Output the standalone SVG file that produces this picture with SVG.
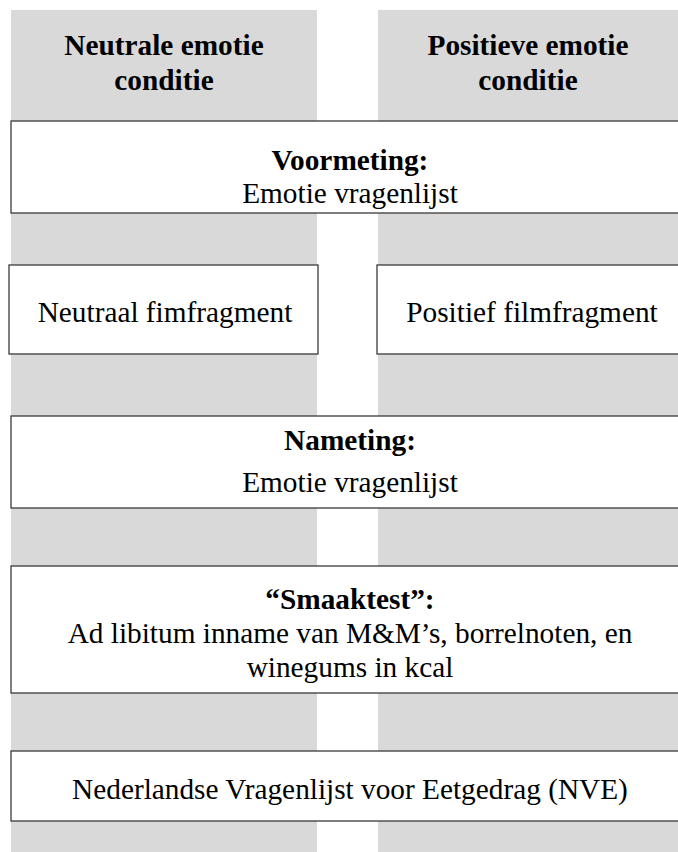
<svg xmlns="http://www.w3.org/2000/svg" width="678" height="852" viewBox="0 0 678 852">
<style>
.col{fill:#d9d9d9;}
.box{fill:#ffffff;stroke:#3a3a3a;stroke-width:1.3;}
.t{font-family:'Liberation Serif','Times New Roman',serif;font-size:29.3px;fill:#000000;text-anchor:middle;}
.b{font-weight:bold;}
</style>
<g id="columns">
<rect class="col" x="11" y="10" width="306" height="842"/>
<rect class="col" x="378" y="10" width="300" height="842"/>
</g>
<g font-family="Liberation Serif, Times New Roman, serif">
<g id="header-neutral">
<text class="t b" x="164" y="55">Neutrale emotie</text>
<text class="t b" x="164" y="90">conditie</text>
</g>
<g id="header-positive">
<text class="t b" x="528" y="55">Positieve emotie</text>
<text class="t b" x="528" y="90">conditie</text>
</g>
<g id="voormeting">
<rect class="box" x="11" y="121" width="678" height="92"/>
<text class="t b" x="350" y="170">Voormeting:</text>
<text class="t" x="350" y="203">Emotie vragenlijst</text>
</g>
<g id="neutraal-film">
<rect class="box" x="9" y="265" width="309" height="89"/>
<text class="t" x="165" y="322">Neutraal fimfragment</text>
</g>
<g id="positief-film">
<rect class="box" x="377" y="265" width="310" height="89"/>
<text class="t" x="532" y="322">Positief filmfragment</text>
</g>
<g id="nameting">
<rect class="box" x="11" y="416" width="678" height="92"/>
<text class="t b" x="350" y="450">Nameting:</text>
<text class="t" x="350" y="492">Emotie vragenlijst</text>
</g>
<g id="smaaktest">
<rect class="box" x="11" y="566" width="678" height="127"/>
<text class="t b" x="350" y="609">“Smaaktest”:</text>
<text class="t" x="350" y="643">Ad libitum inname van M&amp;M’s, borrelnoten, en</text>
<text class="t" x="350" y="677">winegums in kcal</text>
</g>
<g id="nve">
<rect class="box" x="11" y="751" width="678" height="70"/>
<text class="t" x="350" y="799">Nederlandse Vragenlijst voor Eetgedrag (NVE)</text>
</g>
</g>
<g id="connectors"></g>
</svg>
